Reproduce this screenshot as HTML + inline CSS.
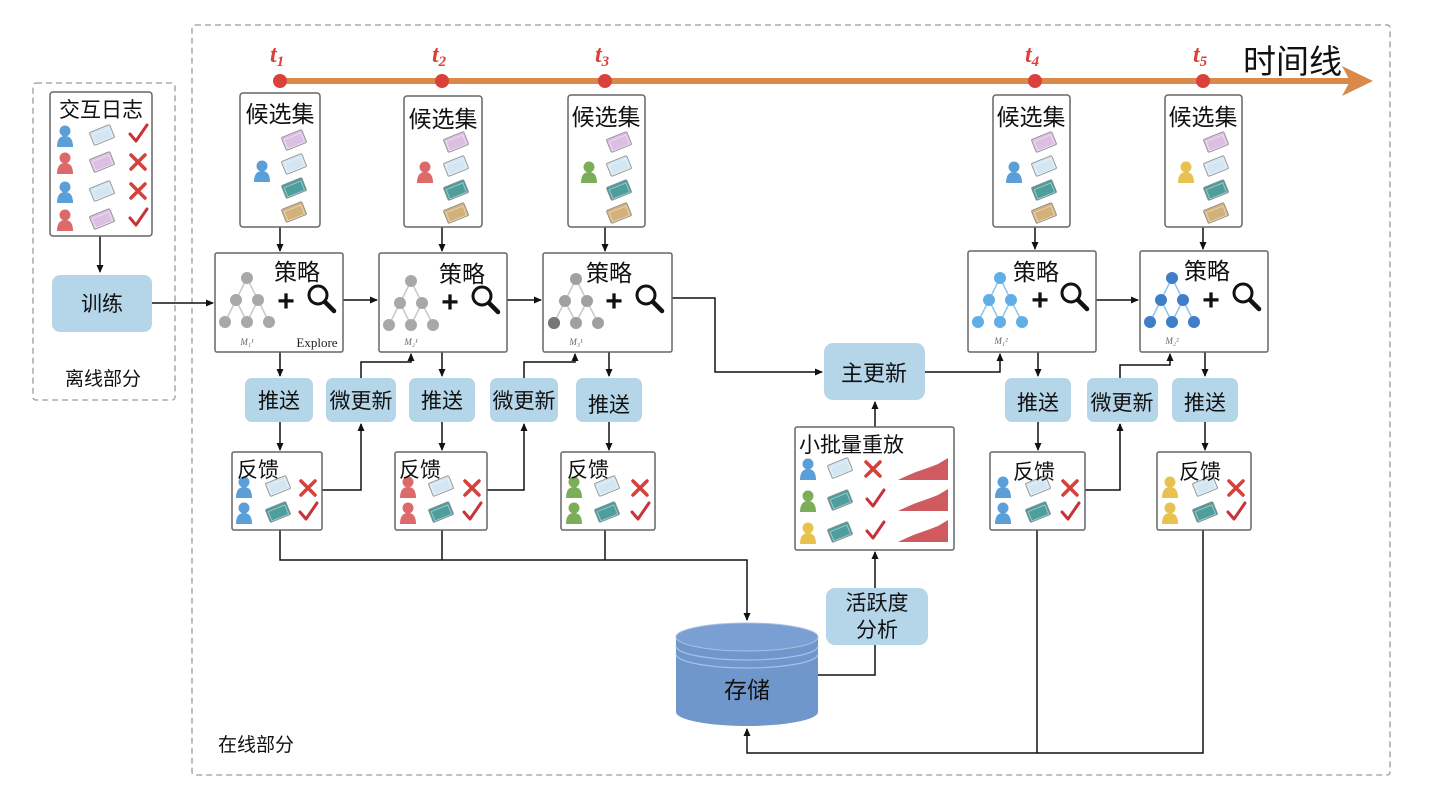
<!DOCTYPE html>
<html><head><meta charset="utf-8"><style>
html,body{margin:0;padding:0;background:#fff;}
svg{display:block;font-family:"Liberation Sans","Noto Sans CJK SC",sans-serif;}
</style></head><body>
<svg width="1430" height="804" viewBox="0 0 1430 804" xmlns="http://www.w3.org/2000/svg">
<defs>
<marker id="ar" markerWidth="8" markerHeight="8" refX="7" refY="4" orient="auto" markerUnits="userSpaceOnUse"><path d="M0,0.5 L8,4 L0,7.5 z" fill="#111"/></marker>
<g id="person"><circle cx="0" cy="-6" r="5.5"/><path d="M-8,10 Q-8,-1 0,-1 Q8,-1 8,10 z"/></g>
<g id="card"><g transform="rotate(-22)"><rect x="-11" y="-7" width="22" height="14" rx="1.5" stroke="#8a8a8a" stroke-width="0.8"/><rect x="-9" y="-4" width="18" height="10" fill="none" stroke="#fff" stroke-opacity="0.5" stroke-width="0.8"/></g></g>
<g id="tree" stroke-width="1.5"><path d="M0,-22 L-11,0 L-22,22 M-11,0 L0,22 M0,-22 L11,0 L0,22 M11,0 L22,22" fill="none"/><circle cx="0" cy="-22" r="6" stroke="none"/><circle cx="-11" cy="0" r="6" stroke="none"/><circle cx="11" cy="0" r="6" stroke="none"/><circle cx="-22" cy="22" r="6" stroke="none"/><circle cx="0" cy="22" r="6" stroke="none"/><circle cx="22" cy="22" r="6" stroke="none"/></g>
<g id="mag"><circle cx="-3" cy="-3" r="9" fill="#fff" stroke="#111" stroke-width="3"/><line x1="4" y1="4" x2="13" y2="13" stroke="#111" stroke-width="4.5" stroke-linecap="round"/></g>
<g id="chk"><path d="M-8,0 L-2,7 L9,-9" fill="none" stroke="#c8323a" stroke-width="3" stroke-linecap="round" stroke-linejoin="round"/></g>
<g id="crs"><path d="M-7,-7 L7,7 M7,-7 L-7,7" fill="none" stroke="#d6403a" stroke-width="3.5" stroke-linecap="round"/></g>
<g id="wave"><path d="M0,14 Q8,10 18,6 Q30,2 40,-2 L50,-8 L50,14 z" fill="#cf5a60"/></g>
</defs>

<rect x="192" y="25" width="1198" height="750" fill="none" stroke="#9a9a9a" stroke-width="1.3" stroke-dasharray="6,4" rx="3"/>
<rect x="33" y="83" width="142" height="317" fill="none" stroke="#9a9a9a" stroke-width="1.3" stroke-dasharray="6,4" rx="3"/>

<line x1="280" y1="81" x2="1350" y2="81" stroke="#d98a4a" stroke-width="6"/>
<path d="M1342,66 L1373,81 L1342,96 L1350,81 z" fill="#d98a4a"/>
<g fill="#d9413a"><circle cx="280" cy="81" r="7"/><circle cx="442" cy="81" r="7"/><circle cx="605" cy="81" r="7"/><circle cx="1035" cy="81" r="7"/><circle cx="1203" cy="81" r="7"/></g>
<g fill="#d9413a" font-family="Liberation Serif,serif" font-style="italic" font-weight="bold" font-size="24">
<text x="270" y="62">t<tspan font-size="15" dy="4">1</tspan></text>
<text x="432" y="62">t<tspan font-size="15" dy="4">2</tspan></text>
<text x="595" y="62">t<tspan font-size="15" dy="4">3</tspan></text>
<text x="1025" y="62">t<tspan font-size="15" dy="4">4</tspan></text>
<text x="1193" y="62">t<tspan font-size="15" dy="4">5</tspan></text>
</g>
<text x="1243" y="73" font-size="33" fill="#111">时间线</text>

<g stroke="#111" stroke-width="1.5" fill="none">
<line x1="100" y1="236" x2="100" y2="272" marker-end="url(#ar)"/>
<line x1="152" y1="303" x2="213" y2="303" marker-end="url(#ar)"/>
<line x1="343" y1="300" x2="377" y2="300" marker-end="url(#ar)"/>
<line x1="507" y1="300" x2="541" y2="300" marker-end="url(#ar)"/>
<polyline points="672,298 715,298 715,372 822,372" marker-end="url(#ar)"/>
<polyline points="925,372 1000,372 1000,354" marker-end="url(#ar)"/>
<line x1="1096" y1="300" x2="1138" y2="300" marker-end="url(#ar)"/>
<line x1="280" y1="227" x2="280" y2="251" marker-end="url(#ar)"/>
<line x1="442" y1="227" x2="442" y2="251" marker-end="url(#ar)"/>
<line x1="605" y1="227" x2="605" y2="251" marker-end="url(#ar)"/>
<line x1="1035" y1="227" x2="1035" y2="249" marker-end="url(#ar)"/>
<line x1="1203" y1="227" x2="1203" y2="249" marker-end="url(#ar)"/>
<line x1="280" y1="352" x2="280" y2="376" marker-end="url(#ar)"/>
<line x1="442" y1="352" x2="442" y2="376" marker-end="url(#ar)"/>
<line x1="609" y1="352" x2="609" y2="376" marker-end="url(#ar)"/>
<line x1="1038" y1="352" x2="1038" y2="376" marker-end="url(#ar)"/>
<line x1="1205" y1="352" x2="1205" y2="376" marker-end="url(#ar)"/>
<line x1="280" y1="422" x2="280" y2="450" marker-end="url(#ar)"/>
<line x1="442" y1="422" x2="442" y2="450" marker-end="url(#ar)"/>
<line x1="609" y1="422" x2="609" y2="450" marker-end="url(#ar)"/>
<line x1="1038" y1="422" x2="1038" y2="450" marker-end="url(#ar)"/>
<line x1="1205" y1="422" x2="1205" y2="450" marker-end="url(#ar)"/>
<polyline points="322,490 361,490 361,424" marker-end="url(#ar)"/>
<polyline points="361,378 361,362 411,362 411,354" marker-end="url(#ar)"/>
<polyline points="487,490 524,490 524,424" marker-end="url(#ar)"/>
<polyline points="524,378 524,362 575,362 575,354" marker-end="url(#ar)"/>
<polyline points="1085,490 1120,490 1120,424" marker-end="url(#ar)"/>
<polyline points="1120,378 1120,365 1170,365 1170,354" marker-end="url(#ar)"/>
<polyline points="280,530 280,560 747,560 747,620" marker-end="url(#ar)"/>
<line x1="442" y1="530" x2="442" y2="560"/>
<line x1="605" y1="530" x2="605" y2="560"/>
<polyline points="1203,530 1203,753 747,753 747,729" marker-end="url(#ar)"/>
<line x1="1037" y1="530" x2="1037" y2="753"/>
<polyline points="818,675 875,675 875,645"/>
<line x1="875" y1="588" x2="875" y2="552" marker-end="url(#ar)"/>
<line x1="875" y1="427" x2="875" y2="402" marker-end="url(#ar)"/>
</g>

<rect x="50" y="92" width="102" height="144" rx="3" fill="#fff" stroke="#666" stroke-width="1.5"/>
<text x="101" y="117" font-size="21" text-anchor="middle" fill="#111">交互日志</text>
<use href="#person" x="65" y="137" fill="#5b9fd9"/><use href="#card" x="102" y="135" fill="#d3e6f2"/><use href="#chk" x="138" y="134"/>
<use href="#person" x="65" y="164" fill="#dd6a6a"/><use href="#card" x="102" y="162" fill="#dcc0e4"/><use href="#crs" x="138" y="162"/>
<use href="#person" x="65" y="193" fill="#5b9fd9"/><use href="#card" x="102" y="191" fill="#d3e6f2"/><use href="#crs" x="138" y="191"/>
<use href="#person" x="65" y="221" fill="#dd6a6a"/><use href="#card" x="102" y="219" fill="#dcc0e4"/><use href="#chk" x="138" y="218"/>
<rect x="52" y="275" width="100" height="57" rx="8" fill="#b5d5e9"/>
<text x="102" y="311" font-size="21" text-anchor="middle" fill="#111">训练</text>
<text x="103" y="385" font-size="19" text-anchor="middle" fill="#111">离线部分</text>

<g fill="#fff" stroke="#666" stroke-width="1.5">
<rect x="240" y="93" width="80" height="134" rx="3"/>
<rect x="404" y="96" width="78" height="131" rx="3"/>
<rect x="568" y="95" width="77" height="132" rx="3"/>
<rect x="993" y="95" width="77" height="132" rx="3"/>
<rect x="1165" y="95" width="77" height="132" rx="3"/>
</g>
<g font-size="23" fill="#111" text-anchor="middle">
<text x="280" y="122">候选集</text><text x="443" y="127">候选集</text><text x="606" y="125">候选集</text><text x="1031" y="125">候选集</text><text x="1203" y="125">候选集</text>
</g>
<g>
<use href="#person" x="262" y="172" fill="#5b9fd9"/>
<use href="#card" x="294" y="140" fill="#dcc0e4"/><use href="#card" x="294" y="164" fill="#d3e6f2"/><use href="#card" x="294" y="188" fill="#4f9e9e"/><use href="#card" x="294" y="212" fill="#d3b27a"/>
<use href="#person" x="425" y="173" fill="#dd6a6a"/>
<use href="#card" x="456" y="142" fill="#dcc0e4"/><use href="#card" x="456" y="166" fill="#d3e6f2"/><use href="#card" x="456" y="190" fill="#4f9e9e"/><use href="#card" x="456" y="213" fill="#d3b27a"/>
<use href="#person" x="589" y="173" fill="#7cae5a"/>
<use href="#card" x="619" y="142" fill="#dcc0e4"/><use href="#card" x="619" y="166" fill="#d3e6f2"/><use href="#card" x="619" y="190" fill="#4f9e9e"/><use href="#card" x="619" y="213" fill="#d3b27a"/>
<use href="#person" x="1014" y="173" fill="#5b9fd9"/>
<use href="#card" x="1044" y="142" fill="#dcc0e4"/><use href="#card" x="1044" y="166" fill="#d3e6f2"/><use href="#card" x="1044" y="190" fill="#4f9e9e"/><use href="#card" x="1044" y="213" fill="#d3b27a"/>
<use href="#person" x="1186" y="173" fill="#e8c24e"/>
<use href="#card" x="1216" y="142" fill="#dcc0e4"/><use href="#card" x="1216" y="166" fill="#d3e6f2"/><use href="#card" x="1216" y="190" fill="#4f9e9e"/><use href="#card" x="1216" y="213" fill="#d3b27a"/>
</g>

<g fill="#fff" stroke="#666" stroke-width="1.5">
<rect x="215" y="253" width="128" height="99" rx="2"/>
<rect x="379" y="253" width="128" height="99" rx="2"/>
<rect x="543" y="253" width="129" height="99" rx="2"/>
<rect x="968" y="251" width="128" height="101" rx="2"/>
<rect x="1140" y="251" width="128" height="101" rx="2"/>
</g>
<use href="#tree" x="247" y="300" fill="#a8a8a8" stroke="#c8c8c8"/>
<use href="#tree" x="411" y="303" fill="#a8a8a8" stroke="#c8c8c8"/>
<use href="#tree" x="576" y="301" fill="#a0a0a0" stroke="#c8c8c8"/>
<circle cx="554" cy="323" r="6" fill="#777"/>
<use href="#tree" x="1000" y="300" fill="#62aee6" stroke="#8cc6ee"/>
<use href="#tree" x="1172" y="300" fill="#3f7ec8" stroke="#8cc6ee"/>
<g font-size="23" fill="#111">
<text x="274" y="280">策略</text><text x="439" y="282">策略</text><text x="586" y="281">策略</text><text x="1013" y="280">策略</text><text x="1184" y="279">策略</text>
</g>
<g font-size="30" font-weight="bold" fill="#111" text-anchor="middle">
<text x="286" y="311">+</text><text x="450" y="312">+</text><text x="614" y="311">+</text><text x="1040" y="310">+</text><text x="1211" y="310">+</text>
</g>
<use href="#mag" x="321" y="298"/><use href="#mag" x="485" y="299"/><use href="#mag" x="649" y="298"/><use href="#mag" x="1074" y="296"/><use href="#mag" x="1246" y="296"/>
<g font-family="Liberation Serif,serif" font-style="italic" font-size="9" fill="#666" text-anchor="middle">
<text x="247" y="345">M₁¹</text><text x="411" y="345">M₂¹</text><text x="576" y="345">M₃¹</text><text x="1001" y="344">M₁²</text><text x="1172" y="344">M₂²</text>
</g>
<text x="317" y="347" font-family="Liberation Serif,serif" font-size="13" fill="#222" text-anchor="middle">Explore</text>

<g fill="#b5d5e9">
<rect x="245" y="378" width="68" height="44" rx="7"/>
<rect x="326" y="378" width="70" height="44" rx="7"/>
<rect x="409" y="378" width="66" height="44" rx="7"/>
<rect x="490" y="378" width="68" height="44" rx="7"/>
<rect x="576" y="378" width="66" height="44" rx="7"/>
<rect x="1005" y="378" width="66" height="44" rx="7"/>
<rect x="1087" y="378" width="71" height="44" rx="7"/>
<rect x="1172" y="378" width="66" height="44" rx="7"/>
<rect x="824" y="343" width="101" height="57" rx="9"/>
<rect x="826" y="588" width="102" height="57" rx="9"/>
</g>
<g font-size="21" fill="#111" text-anchor="middle">
<text x="279" y="408">推送</text><text x="361" y="408">微更新</text><text x="442" y="408">推送</text><text x="524" y="408">微更新</text><text x="609" y="412">推送</text>
<text x="1038" y="410">推送</text><text x="1122" y="410">微更新</text><text x="1205" y="410">推送</text>
<text x="874" y="381" font-size="22">主更新</text>
<text x="877" y="610">活跃度</text><text x="877" y="637">分析</text>
</g>

<g fill="#fff" stroke="#666" stroke-width="1.5">
<rect x="232" y="452" width="90" height="78" rx="2"/>
<rect x="395" y="452" width="92" height="78" rx="2"/>
<rect x="561" y="452" width="94" height="78" rx="2"/>
<rect x="990" y="452" width="95" height="78" rx="2"/>
<rect x="1157" y="452" width="94" height="78" rx="2"/>
</g>
<use href="#person" x="244" y="488" fill="#5b9fd9"/><use href="#card" x="278" y="486" fill="#d3e6f2"/><use href="#crs" x="308" y="488"/>
<use href="#person" x="244" y="514" fill="#5b9fd9"/><use href="#card" x="278" y="512" fill="#4f9e9e"/><use href="#chk" x="308" y="512"/>
<use href="#person" x="408" y="488" fill="#dd6a6a"/><use href="#card" x="441" y="486" fill="#d3e6f2"/><use href="#crs" x="472" y="488"/>
<use href="#person" x="408" y="514" fill="#dd6a6a"/><use href="#card" x="441" y="512" fill="#4f9e9e"/><use href="#chk" x="472" y="512"/>
<use href="#person" x="574" y="488" fill="#7cae5a"/><use href="#card" x="607" y="486" fill="#d3e6f2"/><use href="#crs" x="640" y="488"/>
<use href="#person" x="574" y="514" fill="#7cae5a"/><use href="#card" x="607" y="512" fill="#4f9e9e"/><use href="#chk" x="640" y="512"/>
<use href="#person" x="1003" y="488" fill="#5b9fd9"/><use href="#card" x="1038" y="486" fill="#d3e6f2"/><use href="#crs" x="1070" y="488"/>
<use href="#person" x="1003" y="514" fill="#5b9fd9"/><use href="#card" x="1038" y="512" fill="#4f9e9e"/><use href="#chk" x="1070" y="512"/>
<use href="#person" x="1170" y="488" fill="#e8c24e"/><use href="#card" x="1205" y="486" fill="#d3e6f2"/><use href="#crs" x="1236" y="488"/>
<use href="#person" x="1170" y="514" fill="#e8c24e"/><use href="#card" x="1205" y="512" fill="#4f9e9e"/><use href="#chk" x="1236" y="512"/>
<g font-size="21" fill="#111">
<text x="237" y="477">反馈</text><text x="399" y="477">反馈</text><text x="567" y="477">反馈</text><text x="1013" y="479">反馈</text><text x="1179" y="479">反馈</text>
</g>

<rect x="795" y="427" width="159" height="123" rx="2" fill="#fff" stroke="#666" stroke-width="1.5"/>
<text x="799" y="452" font-size="21" fill="#111">小批量重放</text>
<use href="#person" x="808" y="470" fill="#5b9fd9"/><use href="#card" x="840" y="468" fill="#d3e6f2"/><use href="#crs" x="873" y="469"/><use href="#wave" x="898" y="466"/>
<use href="#person" x="808" y="502" fill="#7cae5a"/><use href="#card" x="840" y="500" fill="#4f9e9e"/><use href="#chk" x="875" y="499"/><use href="#wave" x="898" y="497"/>
<use href="#person" x="808" y="534" fill="#e8c24e"/><use href="#card" x="840" y="532" fill="#4f9e9e"/><use href="#chk" x="875" y="531"/><use href="#wave" x="898" y="528"/>

<path d="M676,637 L676,712 A71,14 0 0 0 818,712 L818,637 z" fill="#7097cc"/>
<ellipse cx="747" cy="637" rx="71" ry="14" fill="#7a9fd2" stroke="#a9c0e3" stroke-width="1"/>
<path d="M676,646 A71,14 0 0 0 818,646 M676,654 A71,14 0 0 0 818,654" fill="none" stroke="#a9c0e3" stroke-width="1.2"/>
<text x="747" y="698" font-size="23" fill="#111" text-anchor="middle">存储</text>

<text x="218" y="751" font-size="19" fill="#111">在线部分</text>
</svg>
</body></html>
